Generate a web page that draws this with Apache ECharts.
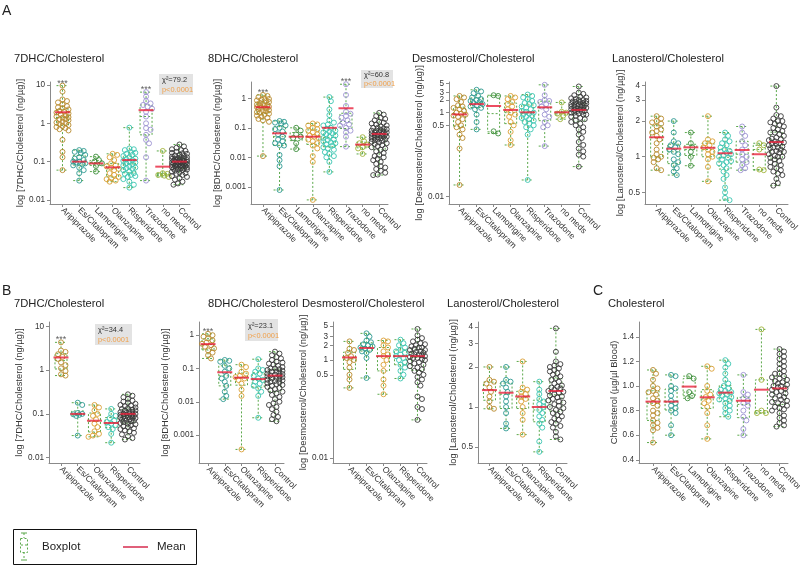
<!DOCTYPE html>
<html><head><meta charset="utf-8">
<script src="https://cdn.jsdelivr.net/npm/echarts@6.0.0/dist/echarts.min.js"></script>
<style>html,body{margin:0;padding:0;background:#fff}#c{width:800px;height:566px}</style>
</head><body><div id="c"></div>
<script>
// ---------- categories ----------
const catsA = ['Aripiprazole','Es/Citalopram','Lamotrigine','Olanzapine','Risperidone','Trazodone','no meds','Control'];
const catsB = ['Aripiprazole','Es/Citalopram','Olanzapine','Risperidone','Control'];

// ---------- tick labels ----------
const ticks7 = [0.01, 0.1, 1, 10];
const ticks8 = [0.001, 0.01, 0.1, 1];
const ticksDes = [0.01, 0.5, 1, 2, 3, 5];
const ticksLan = [0.5, 1, 2, 3, 4];
const ticksChol = [0.4, 0.6, 0.8, 1.0, 1.2, 1.4];

// ---------- A: 7DHC/Cholesterol ----------
const a7_ari = [9.6, 6.7, 4.2, 3.8, 3.5, 3.1, 2.8, 2.6, 2.5, 2.3, 2.1, 2.0, 1.9, 1.8, 1.7, 1.6, 1.5, 1.45, 1.4, 1.3, 1.25, 1.2, 1.1, 1.05, 1.0, 0.95, 0.9, 0.85, 0.8, 0.75, 0.7, 0.65, 0.37, 0.18, 0.13, 0.06];
const a7_esc = [0.2, 0.19, 0.18, 0.17, 0.15, 0.13, 0.12, 0.11, 0.1, 0.1, 0.095, 0.09, 0.085, 0.08, 0.07, 0.06, 0.05, 0.032];
const a7_lam = [0.135, 0.11, 0.1, 0.09, 0.077, 0.055];
const a7_ola = [0.16, 0.15, 0.13, 0.11, 0.09, 0.08, 0.075, 0.07, 0.065, 0.06, 0.05, 0.045, 0.04, 0.037, 0.035, 0.032, 0.03];
const a7_ris = [0.77, 0.22, 0.21, 0.2, 0.18, 0.17, 0.16, 0.15, 0.14, 0.13, 0.12, 0.115, 0.11, 0.105, 0.1, 0.095, 0.09, 0.085, 0.08, 0.075, 0.07, 0.068, 0.065, 0.06, 0.055, 0.05, 0.048, 0.045, 0.042, 0.04, 0.035, 0.03, 0.025, 0.021];
const a7_tra = [6.5, 5.0, 3.8, 3.3, 3.0, 2.7, 2.4, 2.0, 1.5, 1.0, 0.75, 0.68, 0.5, 0.37, 0.3, 0.13, 0.032];
const a7_non = [0.19, 0.05, 0.048, 0.045, 0.043, 0.04];
const a7_con = [0.28, 0.25, 0.23, 0.21, 0.2, 0.19, 0.18, 0.17, 0.165, 0.16, 0.15, 0.145, 0.14, 0.135, 0.13, 0.13, 0.125, 0.12, 0.12, 0.118, 0.115, 0.11, 0.11, 0.108, 0.105, 0.102, 0.1, 0.1, 0.098, 0.096, 0.095, 0.094, 0.092, 0.09, 0.09, 0.088, 0.086, 0.085, 0.084, 0.082, 0.08, 0.08, 0.078, 0.076, 0.075, 0.074, 0.072, 0.07, 0.07, 0.068, 0.066, 0.065, 0.064, 0.062, 0.06, 0.058, 0.055, 0.052, 0.05, 0.048, 0.045, 0.042, 0.04, 0.037, 0.034, 0.03, 0.027, 0.025];
const a7_mean = [1.94, 0.1, 0.09, 0.071, 0.11, 2.2, 0.074, 0.1];

// ---------- A: 8DHC/Cholesterol ----------
const a8_ari = [1.3, 1.2, 1.1, 1.0, 0.95, 0.9, 0.85, 0.8, 0.75, 0.7, 0.65, 0.62, 0.6, 0.57, 0.55, 0.52, 0.5, 0.48, 0.45, 0.43, 0.4, 0.38, 0.36, 0.34, 0.32, 0.3, 0.28, 0.26, 0.24, 0.22, 0.2, 0.18, 0.16, 0.011];
const a8_esc = [0.17, 0.16, 0.15, 0.14, 0.12, 0.1, 0.09, 0.075, 0.06, 0.05, 0.04, 0.035, 0.03, 0.026, 0.025, 0.012, 0.008, 0.005, 0.00078];
const a8_lam = [0.1, 0.08, 0.06, 0.05, 0.045, 0.03, 0.019];
const a8_ola = [0.14, 0.13, 0.12, 0.1, 0.09, 0.08, 0.07, 0.06, 0.055, 0.05, 0.045, 0.04, 0.035, 0.03, 0.025, 0.02, 0.011, 0.007, 0.00036];
const a8_ris = [1.1, 0.8, 0.42, 0.27, 0.18, 0.15, 0.13, 0.12, 0.1, 0.09, 0.08, 0.075, 0.07, 0.065, 0.06, 0.055, 0.05, 0.045, 0.04, 0.038, 0.035, 0.032, 0.03, 0.028, 0.025, 0.022, 0.02, 0.018, 0.015, 0.013, 0.011, 0.01, 0.007, 0.0032];
const a8_tra = [3.0, 1.3, 0.55, 0.35, 0.3, 0.25, 0.22, 0.18, 0.15, 0.13, 0.12, 0.1, 0.08, 0.07, 0.05, 0.023];
const a8_non = [0.048, 0.035, 0.03, 0.027, 0.022, 0.02, 0.013];
const a8_con = [0.32, 0.28, 0.25, 0.22, 0.2, 0.18, 0.16, 0.15, 0.14, 0.13, 0.12, 0.11, 0.1, 0.1, 0.095, 0.09, 0.085, 0.08, 0.08, 0.075, 0.07, 0.07, 0.068, 0.065, 0.062, 0.06, 0.06, 0.057, 0.055, 0.052, 0.05, 0.05, 0.048, 0.046, 0.044, 0.042, 0.04, 0.04, 0.038, 0.036, 0.034, 0.032, 0.03, 0.028, 0.026, 0.024, 0.022, 0.02, 0.018, 0.016, 0.014, 0.012, 0.011, 0.01, 0.009, 0.008, 0.007, 0.006, 0.005, 0.0045, 0.004, 0.0035, 0.003, 0.0026, 0.0025];
const a8_mean = [0.5, 0.065, 0.05, 0.05, 0.1, 0.46, 0.027, 0.062];

// ---------- A: Desmosterol/Cholesterol ----------
const ad_ari = [2.5, 2.3, 2.1, 1.8, 1.5, 1.4, 1.3, 1.2, 1.1, 1.0, 0.95, 0.9, 0.85, 0.8, 0.7, 0.6, 0.5, 0.45, 0.4, 0.3, 0.25, 0.14, 0.019];
const ad_esc = [3.5, 3.2, 2.9, 2.5, 2.3, 2.1, 2.0, 1.9, 1.8, 1.7, 1.6, 1.5, 1.4, 1.3, 1.2, 0.9, 0.6, 0.4];
const ad_lam = [2.6, 2.5, 0.36, 0.32];
const ad_ola = [2.5, 2.3, 2.1, 1.8, 1.6, 1.4, 1.2, 1.0, 0.9, 0.8, 0.6, 0.5, 0.35, 0.22, 0.17];
const ad_ris = [2.7, 2.5, 2.3, 2.1, 1.9, 1.7, 1.6, 1.5, 1.4, 1.3, 1.2, 1.1, 1.05, 1.0, 0.95, 0.9, 0.85, 0.8, 0.75, 0.7, 0.65, 0.6, 0.55, 0.5, 0.45, 0.4, 0.3, 0.025];
const ad_tra = [4.6, 2.6, 2.0, 1.9, 1.8, 1.6, 1.4, 1.2, 0.9, 0.8, 0.6, 0.5, 0.45, 0.16];
const ad_non = [1.75, 1.05, 1.0, 0.95, 0.85, 0.7];
const ad_con = [4.2, 3.0, 2.8, 2.6, 2.4, 2.3, 2.2, 2.1, 2.0, 2.0, 1.9, 1.85, 1.8, 1.8, 1.7, 1.65, 1.6, 1.6, 1.55, 1.5, 1.5, 1.45, 1.4, 1.4, 1.35, 1.3, 1.3, 1.25, 1.2, 1.2, 1.15, 1.1, 1.1, 1.05, 1.0, 1.0, 0.95, 0.9, 0.9, 0.85, 0.8, 0.75, 0.7, 0.65, 0.6, 0.55, 0.5, 0.45, 0.4, 0.35, 0.3, 0.25, 0.2, 0.17, 0.14, 0.12, 0.1, 0.09, 0.052];
const ad_mean = [0.91, 1.6, 1.44, 1.16, 1.02, 1.34, 1.02, 1.16];

// ---------- A: Lanosterol/Cholesterol ----------
const al_ari = [2.2, 2.1, 2.0, 1.95, 1.9, 1.8, 1.7, 1.65, 1.6, 1.5, 1.4, 1.3, 1.15, 1.05, 1.0, 0.98, 0.95, 0.9, 0.8, 0.77];
const al_esc = [2.0, 1.6, 1.35, 1.3, 1.25, 1.2, 1.15, 1.1, 1.05, 0.95, 0.9, 0.85, 0.8, 0.75, 0.7];
const al_lam = [1.6, 1.3, 1.2, 1.1, 1.0, 0.84];
const al_ola = [2.2, 1.4, 1.35, 1.3, 1.25, 1.2, 1.15, 1.1, 1.05, 1.0, 0.95, 0.82, 0.62];
const al_ris = [1.6, 1.5, 1.4, 1.35, 1.3, 1.25, 1.2, 1.15, 1.12, 1.1, 1.08, 1.05, 1.02, 1.0, 0.98, 0.95, 0.92, 0.9, 0.88, 0.85, 0.8, 0.75, 0.7, 0.65, 0.55, 0.5, 0.45, 0.43];
const al_tra = [1.8, 1.6, 1.5, 1.35, 1.25, 1.15, 1.05, 1.0, 0.95, 0.9, 0.85, 0.8, 0.77];
const al_non = [1.3, 1.25, 1.15, 0.78, 0.77];
const al_con = [3.95, 2.6, 2.25, 2.2, 2.1, 2.0, 2.0, 1.95, 1.9, 1.85, 1.8, 1.75, 1.7, 1.65, 1.6, 1.6, 1.55, 1.5, 1.45, 1.42, 1.4, 1.38, 1.35, 1.32, 1.3, 1.3, 1.28, 1.25, 1.22, 1.2, 1.2, 1.18, 1.15, 1.12, 1.1, 1.1, 1.08, 1.05, 1.02, 1.0, 1.0, 0.98, 0.95, 0.92, 0.9, 0.87, 0.85, 0.82, 0.8, 0.77, 0.75, 0.72, 0.7, 0.65, 0.6, 0.57];
const al_mean = [1.46, 1.17, 1.2, 1.19, 1.07, 1.14, 1.05, 1.33];

// ---------- B: 7DHC/Cholesterol ----------
const b7_ari = [4.3, 2.8, 2.6, 2.3, 2.0, 1.8, 1.5, 1.3, 1.1, 0.95, 0.8, 0.75];
const b7_esc = [0.18, 0.16, 0.105, 0.1, 0.098, 0.095, 0.09, 0.032];
const b7_ola = [0.16, 0.14, 0.12, 0.1, 0.09, 0.075, 0.06, 0.05, 0.04, 0.035, 0.032, 0.03];
const b7_ris = [0.13, 0.1, 0.09, 0.08, 0.07, 0.065, 0.06, 0.055, 0.05, 0.045, 0.035, 0.022];
const b7_con = [0.28, 0.26, 0.24, 0.22, 0.2, 0.19, 0.18, 0.17, 0.16, 0.155, 0.15, 0.14, 0.135, 0.13, 0.125, 0.12, 0.12, 0.115, 0.11, 0.11, 0.105, 0.1, 0.1, 0.1, 0.097, 0.095, 0.093, 0.09, 0.09, 0.088, 0.085, 0.083, 0.08, 0.08, 0.078, 0.075, 0.073, 0.07, 0.07, 0.068, 0.065, 0.062, 0.06, 0.058, 0.055, 0.052, 0.05, 0.047, 0.045, 0.042, 0.04, 0.037, 0.034, 0.031, 0.028, 0.026];
const b7_mean = [1.94, 0.1, 0.07, 0.062, 0.1];

// ---------- B: 8DHC/Cholesterol ----------
const b8_ari = [1.1, 1.0, 0.9, 0.8, 0.7, 0.6, 0.55, 0.5, 0.45, 0.4, 0.35, 0.3, 0.25, 0.2];
const b8_esc = [0.18, 0.17, 0.16, 0.12, 0.1, 0.08, 0.06, 0.05, 0.04, 0.03, 0.02, 0.015, 0.012];
const b8_ola = [0.13, 0.11, 0.08, 0.07, 0.06, 0.055, 0.05, 0.045, 0.035, 0.023, 0.015, 0.00037];
const b8_ris = [0.19, 0.1, 0.09, 0.08, 0.07, 0.06, 0.05, 0.045, 0.04, 0.035, 0.03, 0.025, 0.02, 0.015, 0.0033];
const b8_con = [0.32, 0.28, 0.25, 0.22, 0.2, 0.18, 0.16, 0.15, 0.14, 0.13, 0.12, 0.11, 0.1, 0.1, 0.095, 0.09, 0.085, 0.08, 0.08, 0.075, 0.07, 0.068, 0.065, 0.062, 0.06, 0.058, 0.055, 0.052, 0.05, 0.048, 0.046, 0.044, 0.042, 0.04, 0.038, 0.036, 0.034, 0.032, 0.03, 0.028, 0.026, 0.024, 0.022, 0.02, 0.018, 0.016, 0.014, 0.012, 0.01, 0.009, 0.008, 0.007, 0.006, 0.005, 0.004, 0.0035, 0.003, 0.0026];
const b8_mean = [0.54, 0.077, 0.053, 0.048, 0.061];

// ---------- B: Desmosterol/Cholesterol ----------
const bd_ari = [2.4, 1.7, 1.6, 1.4, 1.2, 1.1, 1.0, 0.9, 0.7, 0.5, 0.4, 0.27];
const bd_esc = [3.5, 3.0, 2.5, 2.3, 2.1, 2.0, 1.9, 1.8, 1.7, 1.6, 1.5, 1.4, 1.1, 0.43];
const bd_ola = [2.5, 2.4, 2.0, 1.8, 1.5, 1.3, 1.2, 1.0, 0.8, 0.6, 0.4, 0.3, 0.2];
const bd_ris = [2.6, 2.2, 2.0, 1.8, 1.6, 1.5, 1.4, 1.3, 1.2, 1.1, 1.0, 0.9, 0.8, 0.7, 0.6, 0.5, 0.42];
const bd_con = [4.3, 3.2, 2.8, 2.6, 2.4, 2.2, 2.1, 2.0, 1.9, 1.8, 1.8, 1.7, 1.6, 1.6, 1.5, 1.45, 1.4, 1.35, 1.3, 1.3, 1.25, 1.2, 1.15, 1.1, 1.1, 1.05, 1.0, 0.95, 0.9, 0.85, 0.8, 0.75, 0.7, 0.65, 0.6, 0.55, 0.5, 0.45, 0.4, 0.35, 0.3, 0.18, 0.16, 0.11, 0.1, 0.06];
const bd_mean = [1.13, 1.76, 1.2, 1.2, 1.2];

// ---------- B: Lanosterol/Cholesterol ----------
const bl_ari = [2.0, 1.6, 1.55, 1.5, 1.4, 1.3, 1.2, 1.1, 1.0, 0.97];
const bl_esc = [2.0, 1.6, 1.55, 1.5, 1.4, 1.3, 1.2, 1.1, 1.0, 0.9, 0.75, 0.69];
const bl_ola = [2.2, 1.4, 1.35, 1.3, 1.25, 1.2, 1.15, 1.1, 1.0, 0.9, 0.8, 0.62];
const bl_ris = [1.55, 1.35, 1.25, 1.15, 1.1, 1.05, 1.0, 0.95, 0.9, 0.85, 0.8, 0.75, 0.7, 0.55, 0.46];
const bl_con = [3.9, 2.6, 2.2, 2.1, 2.05, 2.0, 1.95, 1.9, 1.85, 1.8, 1.75, 1.7, 1.65, 1.6, 1.55, 1.5, 1.45, 1.42, 1.4, 1.38, 1.35, 1.32, 1.3, 1.28, 1.25, 1.22, 1.2, 1.18, 1.15, 1.12, 1.1, 1.08, 1.05, 1.02, 1.0, 0.98, 0.95, 0.92, 0.9, 0.87, 0.85, 0.82, 0.8, 0.77, 0.75, 0.72, 0.7, 0.65, 0.6, 0.57];
const bl_mean = [1.34, 1.28, 1.2, 1.0, 1.32];

// ---------- C: Cholesterol ----------
const c_ari = [1.13, 1.1, 1.05, 1.0, 0.98, 0.96, 0.95, 0.93, 0.9, 0.88, 0.86, 0.84, 0.8, 0.78, 0.76, 0.72, 0.7, 0.68, 0.66, 0.64, 0.54];
const c_esc = [1.09, 1.08, 1.0, 0.98, 0.96, 0.92, 0.88, 0.86, 0.84, 0.82, 0.8, 0.78, 0.68, 0.6];
const c_lam = [1.08, 1.06, 0.95, 0.92, 0.9];
const c_ola = [1.16, 1.14, 1.0, 0.96, 0.93, 0.91, 0.88, 0.86, 0.83, 0.78, 0.68, 0.57];
const c_ris = [1.21, 1.18, 1.15, 1.1, 1.05, 1.02, 1.0, 0.98, 0.97, 0.96, 0.95, 0.94, 0.93, 0.92, 0.91, 0.9, 0.89, 0.88, 0.86, 0.84, 0.82, 0.8, 0.78, 0.75];
const c_tra = [1.09, 0.95, 0.93, 0.9, 0.88, 0.86, 0.84, 0.8, 0.75, 0.72, 0.65, 0.6];
const c_non = [1.46, 1.05, 0.8, 0.78, 0.78];
const c_con = [1.3, 1.28, 1.26, 1.24, 1.22, 1.2, 1.18, 1.16, 1.14, 1.12, 1.1, 1.1, 1.08, 1.07, 1.06, 1.05, 1.04, 1.03, 1.02, 1.01, 1.0, 1.0, 0.99, 0.98, 0.97, 0.96, 0.95, 0.94, 0.93, 0.92, 0.91, 0.9, 0.89, 0.88, 0.87, 0.86, 0.85, 0.84, 0.83, 0.82, 0.81, 0.8, 0.78, 0.76, 0.74, 0.72, 0.7, 0.68, 0.67];
const c_mean = [0.873, 0.873, 0.995, 0.908, 0.946, 0.88, 0.97, 0.98];

// ---------- statistics annotations ----------
const chiA7 = 'χ²=79.2', chiA8 = 'χ²=60.8', chiB7 = 'χ²=34.4', chiB8 = 'χ²=23.1';
const pText = 'p<0.0001';

// ---------- styles ----------
const FONT = "'Liberation Sans',Arial,sans-serif";
const groupColors = {
  'Aripiprazole': '#b8892c', 'Es/Citalopram': '#2f9a92', 'Lamotrigine': '#3f8e3f',
  'Olanzapine': '#daa035', 'Risperidone': '#3cc5b1', 'Trazodone': '#9d93d3',
  'no meds': '#a2b43c', 'Control': '#3a3a3a'
};
const boxColor = '#5aa84a';
const meanColor = '#e8213b';
const axisColor = '#8a8a8a';

const panels = [
  {title:'7DHC/Cholesterol', tpos:[14,53], yName:'log [7DHC/Cholesterol (ng/µg)]', cats:catsA,
   groups:[a7_ari,a7_esc,a7_lam,a7_ola,a7_ris,a7_tra,a7_non,a7_con], means:a7_mean, ticks:ticks7, log:true,
   g:[50,82,140,122], x:[-0.748,7.63], y:[-2.105,1.077], gap:21, stars:[0,5], chi:[chiA7,159,74,34,21]},
  {title:'8DHC/Cholesterol', tpos:[208,53], yName:'log [8DHC/Cholesterol (ng/µg)]', cats:catsA,
   groups:[a8_ari,a8_esc,a8_lam,a8_ola,a8_ris,a8_tra,a8_non,a8_con], means:a8_mean, ticks:ticks8, log:true,
   g:[251,82,137,122], x:[-0.72,7.53], y:[-3.583,0.553], gap:26, stars:[0,5], chi:[chiA8,361,70,32,18]},
  {title:'Desmosterol/Cholesterol', tpos:[412,53], yName:'log [Desmosterol/Cholesterol (ng/µg)]', cats:catsA,
   groups:[ad_ari,ad_esc,ad_lam,ad_ola,ad_ris,ad_tra,ad_non,ad_con], means:ad_mean, ticks:ticksDes, log:true,
   g:[449,82,141,122], x:[-0.62,7.66], y:[-2.174,0.73], gap:24, stars:[], chi:null},
  {title:'Lanosterol/Cholesterol', tpos:[612,53], yName:'log [Lanosterol/Cholesterol (ng/µg)]', cats:catsA,
   groups:[al_ari,al_esc,al_lam,al_ola,al_ris,al_tra,al_non,al_con], means:al_mean, ticks:ticksLan, log:true,
   g:[645,82,143,122], x:[-0.68,7.68], y:[-0.399,0.631], gap:18, stars:[], chi:null},
  {title:'7DHC/Cholesterol', tpos:[14,298], yName:'log [7DHC/Cholesterol (ng/µg)]', cats:catsB,
   groups:[b7_ari,b7_esc,b7_ola,b7_ris,b7_con], means:b7_mean, ticks:ticks7, log:true,
   g:[49,322,91,141], x:[-0.716,4.72], y:[-2.121,1.098], gap:18, stars:[0], chi:[chiB7,95,324,37,21]},
  {title:'8DHC/Cholesterol', tpos:[208,298], yName:'log [8DHC/Cholesterol (ng/µg)]', cats:catsB,
   groups:[b8_ari,b8_esc,b8_ola,b8_ris,b8_con], means:b8_mean, ticks:ticks8, log:true,
   g:[199,322,85,141], x:[-0.54,4.54], y:[-3.84,0.396], gap:28, stars:[0], chi:[chiB8,245,319,33,22]},
  {title:'Desmosterol/Cholesterol', tpos:[302,298], yName:'log [Desmosterol/Cholesterol (ng/µg)]', cats:catsB,
   groups:[bd_ari,bd_esc,bd_ola,bd_ris,bd_con], means:bd_mean, ticks:ticksDes, log:true,
   g:[333,322,94,141], x:[-0.97,4.56], y:[-2.102,0.776], gap:17, stars:[], chi:null},
  {title:'Lanosterol/Cholesterol', tpos:[447,298], yName:'log [Lanosterol/Cholesterol (ng/µg)]', cats:catsB,
   groups:[bl_ari,bl_esc,bl_ola,bl_ris,bl_con], means:bl_mean, ticks:ticksLan, log:true,
   g:[478,322,89,141], x:[-0.69,4.67], y:[-0.421,0.639], gap:16, stars:[], chi:null},
  {title:'Cholesterol', tpos:[608,298], yName:'Cholesterol (µg/µl Blood)', cats:catsA,
   groups:[c_ari,c_esc,c_lam,c_ola,c_ris,c_tra,c_non,c_con], means:c_mean, ticks:ticksChol, log:false,
   g:[639,322,149,141], x:[-0.775,7.47], y:[0.374,1.52], gap:17, stars:[], chi:null}
];

function quant(s, p) {
  const pos = (s.length - 1) * p, lo = Math.floor(pos), hi = Math.ceil(pos);
  return s[lo] + (s[hi] - s[lo]) * (pos - lo);
}
// deterministic beeswarm layout (pixel offsets only)
function swarm(ys, maxHalf, diam) {
  const order = ys.map((y, i) => i).sort((a, b) => ys[a] - ys[b]);
  const placed = [], offs = new Array(ys.length).fill(0), step = 1.5;
  const nC = Math.ceil(2 * maxHalf / step) + 1;
  for (const i of order) {
    const y = ys[i];
    let best = 0, bestScore = -Infinity;
    for (let k = 0; k <= nC; k++) {
      const m = Math.ceil(k / 2) * step * (k % 2 ? 1 : -1);
      if (Math.abs(m) > maxHalf) continue;
      let minD = Infinity;
      for (const q of placed) { const d = Math.hypot(q[0] - m, q[1] - y); if (d < minD) minD = d; }
      if (minD >= diam) { best = m; bestScore = Infinity; break; }
      if (minD > bestScore + 0.01) { bestScore = minD; best = m; }
    }
    offs[i] = best; placed.push([best, y]);
  }
  return offs;
}

const grids = [], xAxes = [], yAxes = [], series = [], titles = [], graphics = [];
panels.forEach((p, k) => {
  const tf = p.log ? (v => Math.log10(v)) : (v => v);
  const [gl, gt, gw, gh] = p.g;
  grids.push({left: gl, top: gt, width: gw, height: gh, containLabel: false, outerBoundsMode: 'none'});
  const idx = p.cats.map((c, i) => i);
  xAxes.push({
    type: 'value', gridIndex: k, min: p.x[0], max: p.x[1],
    axisLine: {show: true, onZero: false, lineStyle: {color: axisColor, width: 1}},
    axisTick: {show: true, customValues: idx, length: 3, lineStyle: {color: axisColor}},
    axisLabel: {customValues: idx, formatter: v => p.cats[Math.round(v)], rotate: -45, fontSize: 8.6,
      color: '#333', margin: 5, fontFamily: FONT},
    splitLine: {show: false}
  });
  const tv = p.ticks.map(tf);
  const tl = p.ticks.map(t => p.log ? String(t) : t.toFixed(1));
  yAxes.push({
    type: 'value', gridIndex: k, min: p.y[0], max: p.y[1],
    name: p.yName, nameLocation: 'middle', nameGap: p.gap,
    nameTextStyle: {fontSize: 9.4, color: '#333', fontFamily: FONT},
    axisLine: {show: true, onZero: false, lineStyle: {color: axisColor, width: 1}},
    axisTick: {show: true, customValues: tv, length: 3, lineStyle: {color: axisColor}},
    axisLabel: {customValues: tv, fontSize: 8.2, color: '#333', margin: 5, fontFamily: FONT,
      formatter: v => { let b = 0; tv.forEach((t, i) => { if (Math.abs(t - v) < Math.abs(tv[b] - v)) b = i; }); return tl[b]; }},
    splitLine: {show: false}
  });
  // boxplots from the data
  const boxData = p.groups.map((g, i) => {
    const s = g.map(tf).sort((a, b) => a - b);
    return [i, s[0], quant(s, 0.25), quant(s, 0.5), quant(s, 0.75), s[s.length - 1]];
  });
  series.push({type: 'boxplot', xAxisIndex: k, yAxisIndex: k, boxWidth: [12, 12], data: boxData, silent: true, z: 1,
    itemStyle: {color: 'rgba(0,0,0,0)', borderColor: boxColor, borderWidth: 1, borderType: [2, 2]}});
  // points
  const pts = [];
  p.groups.forEach((g, i) => {
    const ys = g.map(v => (p.y[1] - tf(v)) / (p.y[1] - p.y[0]) * gh);
    const offs = swarm(ys, i === p.groups.length - 1 ? 8.5 : 6.5, 4.3);
    const col = groupColors[p.cats[i]];
    g.forEach((v, j) => pts.push({value: [i, tf(v)], symbolOffset: [offs[j], 0], itemStyle: {borderColor: col}}));
  });
  series.push({type: 'scatter', xAxisIndex: k, yAxisIndex: k, symbol: 'circle', symbolSize: 5, silent: true, z: 3,
    itemStyle: {color: 'rgba(255,255,255,0)', borderWidth: 1, opacity: 0.9}, data: pts});
  // means
  series.push({type: 'scatter', xAxisIndex: k, yAxisIndex: k, symbol: 'rect', symbolSize: [15, 2], silent: true, z: 5,
    itemStyle: {color: meanColor}, data: p.means.map((m, i) => [i, tf(m)])});
  // significance stars
  if (p.stars.length) {
    series.push({type: 'scatter', xAxisIndex: k, yAxisIndex: k, symbol: 'circle', symbolSize: 0.1, silent: true, z: 6,
      itemStyle: {color: 'rgba(0,0,0,0)'},
      label: {show: true, formatter: '***', position: 'top', distance: -2, fontSize: 9, color: '#333', fontFamily: FONT},
      data: p.stars.map(i => [i, Math.max(...p.groups[i].map(tf))])});
  }
  titles.push({text: p.title, left: p.tpos[0], top: p.tpos[1], padding: 0,
    textStyle: {fontSize: 11.2, fontWeight: 'normal', color: '#222', fontFamily: FONT}});
  if (p.chi) {
    const [txt, cx, cy, cw, ch] = p.chi;
    graphics.push({type: 'rect', shape: {x: cx, y: cy, width: cw, height: ch}, style: {fill: '#e3e3e3'}, z: 10});
    graphics.push({type: 'text', x: cx + 3, y: cy + ch * 0.3, z: 11,
      style: {text: txt, fill: '#333', fontSize: 7.4, fontFamily: FONT, verticalAlign: 'middle'}});
    graphics.push({type: 'text', x: cx + 3, y: cy + ch * 0.75, z: 11,
      style: {text: pText, fill: '#f0a04a', fontSize: 7.4, fontFamily: FONT, verticalAlign: 'middle'}});
  }
});

// panel letters
[['A', 2, 4], ['B', 2, 284], ['C', 593, 284]].forEach(([t, l, tp]) =>
  titles.push({text: t, left: l, top: tp, padding: 0, textStyle: {fontSize: 14, fontWeight: 'normal', color: '#222', fontFamily: FONT}}));

// legend box
const dash = [2, 2];
graphics.push(
  {type: 'rect', shape: {x: 13.5, y: 529.5, width: 183, height: 35}, style: {fill: '#fff', stroke: '#111', lineWidth: 1}, z: 20},
  {type: 'line', shape: {x1: 24, y1: 533, x2: 24, y2: 538}, style: {stroke: boxColor, lineWidth: 1, lineDash: dash}, z: 21},
  {type: 'line', shape: {x1: 24, y1: 552, x2: 24, y2: 560}, style: {stroke: boxColor, lineWidth: 1, lineDash: dash}, z: 21},
  {type: 'line', shape: {x1: 21, y1: 533, x2: 27, y2: 533}, style: {stroke: boxColor, lineWidth: 1}, z: 21},
  {type: 'line', shape: {x1: 21, y1: 560, x2: 27, y2: 560}, style: {stroke: boxColor, lineWidth: 1}, z: 21},
  {type: 'rect', shape: {x: 20.5, y: 538.5, width: 7, height: 14}, style: {fill: 'none', stroke: boxColor, lineWidth: 1, lineDash: dash}, z: 21},
  {type: 'line', shape: {x1: 21, y1: 545, x2: 27, y2: 545}, style: {stroke: boxColor, lineWidth: 1, lineDash: dash}, z: 21},
  {type: 'text', x: 42, y: 547, z: 21, style: {text: 'Boxplot', fill: '#222', fontSize: 11.5, fontFamily: FONT, verticalAlign: 'middle'}},
  {type: 'line', shape: {x1: 123, y1: 547, x2: 148, y2: 547}, style: {stroke: '#e0607a', lineWidth: 2}, z: 21},
  {type: 'text', x: 157, y: 547, z: 21, style: {text: 'Mean', fill: '#222', fontSize: 11.5, fontFamily: FONT, verticalAlign: 'middle'}}
);

const chart = echarts.init(document.getElementById('c'), null, {renderer: 'canvas'});
chart.setOption({
  animation: false,
  backgroundColor: '#fff',
  textStyle: {fontFamily: FONT},
  title: titles,
  grid: grids,
  xAxis: xAxes,
  yAxis: yAxes,
  series: series,
  graphic: {elements: graphics}
});
</script>
</body></html>
